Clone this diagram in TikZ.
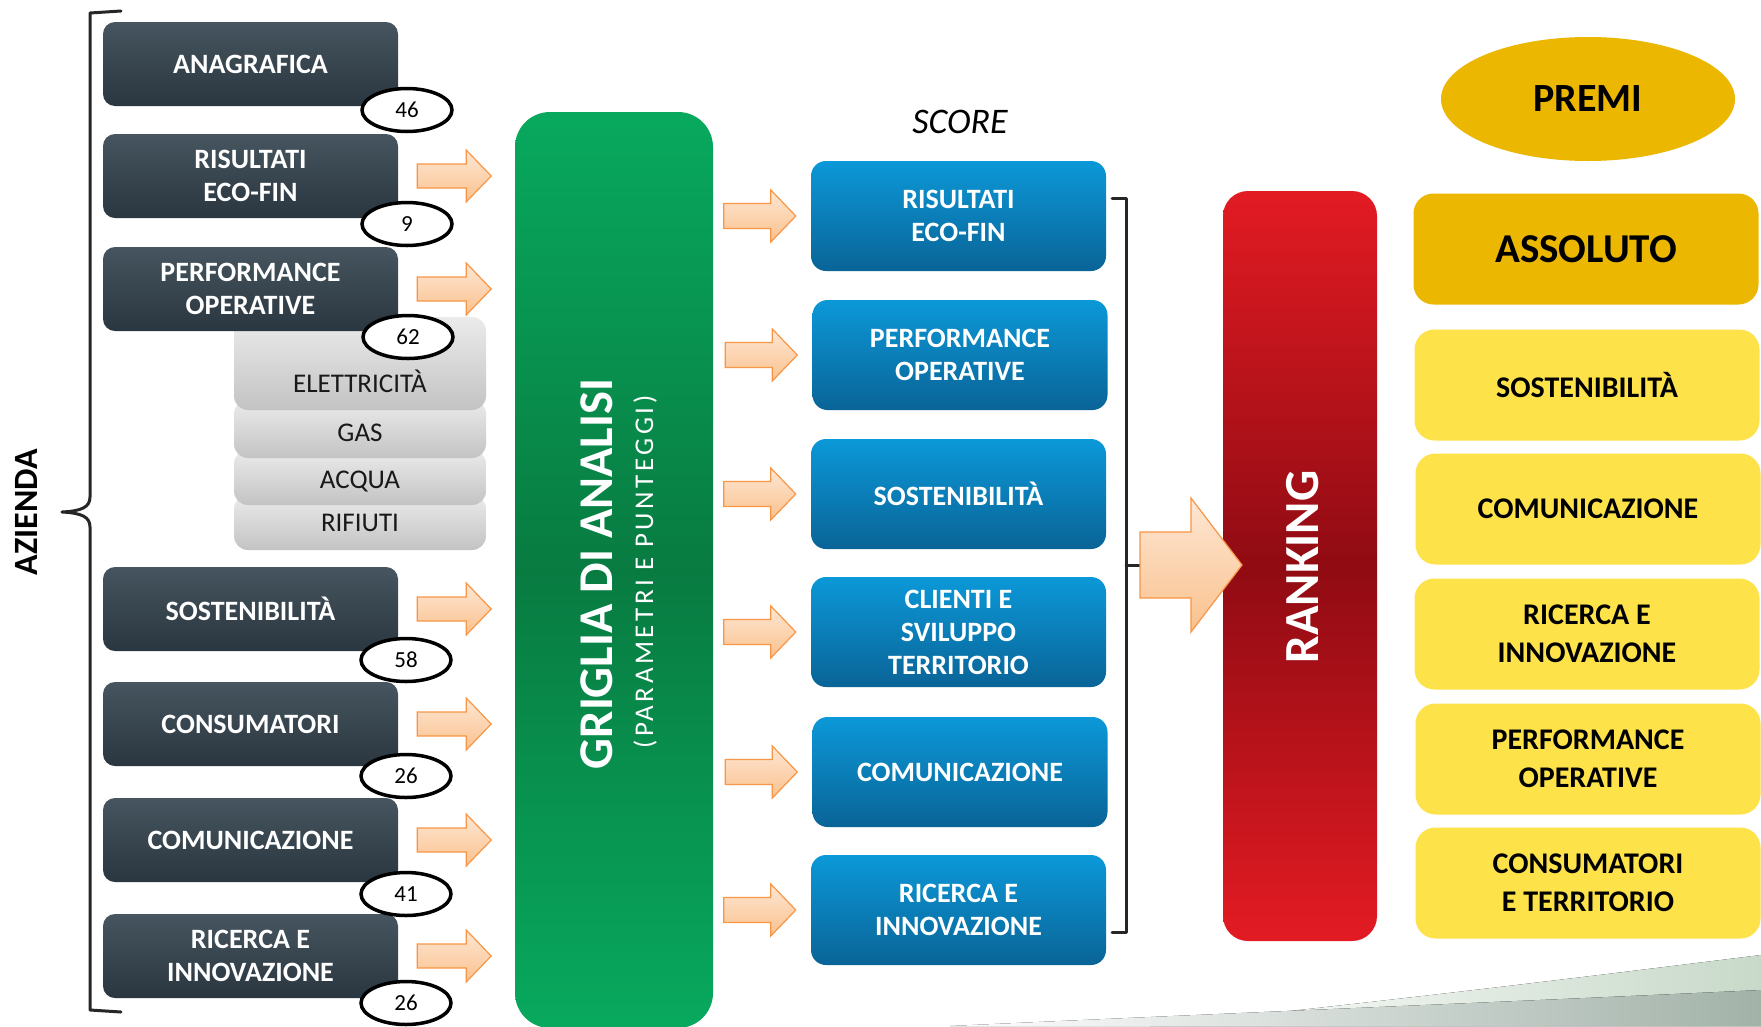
\documentclass[tikz,border=0pt]{standalone}
\usepackage{fontspec}
\setmainfont{Carlito}
\newfontfamily\widefont[LetterSpace=13]{Carlito}
\usepackage{tikz}
\usetikzlibrary{shapes, arrows, positioning}

\definecolor{slatetop}{HTML}{46555F}
\definecolor{slatebot}{HTML}{2A3640}
\definecolor{greytop}{HTML}{EBEBEB}
\definecolor{greybot}{HTML}{C3C3C3}
\definecolor{bluetop}{HTML}{0B98D8}
\definecolor{bluebot}{HTML}{0A6497}
\definecolor{greentop}{HTML}{08A95E}
\definecolor{greenmid}{HTML}{087B41}
\definecolor{redtop}{HTML}{E31B23}
\definecolor{redmid}{HTML}{900B13}
\definecolor{goldfill}{HTML}{EBB700}
\definecolor{yellowfill}{HTML}{FDE24A}
\definecolor{peachtop}{HTML}{FDE7D4}
\definecolor{peachbot}{HTML}{FAC18D}
\definecolor{peachline}{HTML}{F79646}
\definecolor{swoopgreen}{HTML}{C8D9C9}
\definecolor{swoopgrey}{HTML}{A2B2A9}
\definecolor{inkline}{HTML}{262626}

\tikzstyle{azbox}      = [rounded corners=12pt, top color=slatetop, bottom color=slatebot, text=white, align=center, inner sep=0pt, minimum width=295pt, minimum height=84pt, font=\bfseries\fontsize{28}{33}\selectfont]
\tikzstyle{subbox}     = [rounded corners=14pt, top color=greytop, bottom color=greybot, text=black!90, inner sep=0pt, minimum width=252pt, anchor=base, font=\fontsize{27}{32}\selectfont]
\tikzstyle{nr}         = [draw, ellipse, line width=3.5pt, fill=white, inner sep=0pt, minimum width=90pt, minimum height=43pt, font=\fontsize{23}{27}\selectfont]
\tikzstyle{scorebox}   = [rounded corners=15pt, top color=bluetop, bottom color=bluebot, text=white, align=center, inner sep=0pt, minimum width=295pt, minimum height=110pt, font=\bfseries\fontsize{28}{33}\selectfont]
\tikzstyle{awardbox}   = [rounded corners=20pt, fill=yellowfill, align=center, inner sep=0pt, minimum width=345pt, minimum height=111pt, font=\bfseries\fontsize{30}{38}\selectfont]
\tikzstyle{bracket}    = [draw=inkline, line width=3pt, line cap=round, line join=round]
\tikzstyle{blockarrow} = [draw=peachline, line width=1.2pt, top color=peachtop, bottom color=peachbot]

\tikzset{pics/fat arrow/.style n args={4}{code={
  \path[blockarrow] (0,#2) -- ({#1-#4},#2) -- ({#1-#4},#3) -- (#1,0) -- ({#1-#4},-#3) -- ({#1-#4},-#2) -- (0,-#2) -- cycle;
}}}

\begin{document}
\begin{tikzpicture}[x=1pt, y=-1pt]

\useasboundingbox (0,0) rectangle (1761,1026);
\fill[white] (0,0) rectangle (1761,1026);

% background swoosh
\fill[left color=white, right color=swoopgreen] (1150,1026) .. controls (1400,1000) and (1600,975) .. (1761,955) -- (1761,1026) -- cycle;
\fill[left color=white, right color=swoopgrey]  (950,1026) .. controls (1300,1010) and (1550,1000) .. (1761,990) -- (1761,1026) -- cycle;

% azienda
\node [rotate=90, font=\bfseries\fontsize{34}{40}\selectfont] at (   26 ,  512 ) (azienda) {AZIENDA};
\draw [bracket] (121,11) -- (90,13) -- (90,497) .. controls (90,507) and (82,511) .. (62,512) .. controls (82,513) and (90,517) .. (90,527) -- (90,1010) -- (121,1012);

\node [subbox, text height=36.5pt, text depth=18.5pt] at ( 360 , 531.5 ) (rifiuti) {RIFIUTI};
\node [subbox, text height=38.5pt, text depth=16.5pt] at ( 360 , 488.5 ) (acqua)   {ACQUA};
\node [subbox, text height=41.5pt, text depth=16.5pt] at ( 360 , 441.5 ) (gas)     {GAS};
\node [subbox, text height=75pt,   text depth=18pt]   at ( 360 , 392   ) (elett)   {ELETTRICITÀ};

\node [azbox] at ( 250.5 ,  64 ) (anag) {ANAGRAFICA};
\node [azbox] at ( 250.5 , 176 ) (risf) {RISULTATI\\ECO-FIN};
\node [azbox] at ( 250.5 , 289 ) (perf) {PERFORMANCE\\OPERATIVE};
\node [azbox] at ( 250.5 , 609 ) (sost) {SOSTENIBILITÀ};
\node [azbox] at ( 250.5 , 724 ) (cons) {CONSUMATORI};
\node [azbox] at ( 250.5 , 840 ) (comu) {COMUNICAZIONE};
\node [azbox] at ( 250.5 , 956 ) (rice) {RICERCA E\\INNOVAZIONE};

\node [nr] at ( 407 ,  110 ) (n-anag) {46};
\node [nr] at ( 407 ,  224 ) (n-risf) {9};
\node [nr] at ( 408 ,  337 ) (n-perf) {62};
\node [nr] at ( 406 ,  660 ) (n-sost) {58};
\node [nr] at ( 406 ,  776 ) (n-cons) {26};
\node [nr] at ( 406 ,  894 ) (n-comu) {41};
\node [nr] at ( 406 , 1003 ) (n-rice) {26};

% griglia
\node [rounded corners=35pt, top color=greentop, bottom color=greentop, middle color=greenmid, inner sep=0pt, minimum width=198pt, minimum height=916pt] at ( 614 , 570 ) (griglia) {};
\node [rotate=90, text=white, font=\bfseries\fontsize{48.5}{50}\selectfont] at ( 597 , 574 ) (griglia-t) {GRIGLIA DI ANALISI};
\node [rotate=90, text=white, font=\widefont\fontsize{27}{30}\selectfont] at ( 645 , 572 ) (griglia-s) {(PARAMETRI  E  PUNTEGGI)};

% score
\node [font=\itshape\fontsize{36}{40}\selectfont] at ( 960 , 122 ) (score) {SCORE};
\node [scorebox] at ( 958.5 , 216 ) (s1) {RISULTATI\\ECO-FIN};
\node [scorebox] at ( 960   , 355 ) (s2) {PERFORMANCE\\OPERATIVE};
\node [scorebox] at ( 958.5 , 494 ) (s3) {SOSTENIBILITÀ};
\node [scorebox] at ( 958.5 , 632 ) (s4) {CLIENTI E\\SVILUPPO\\TERRITORIO};
\node [scorebox] at ( 960   , 772 ) (s5) {COMUNICAZIONE};
\node [scorebox] at ( 958.5 , 910 ) (s6) {RICERCA E\\INNOVAZIONE};

\draw [bracket] (1112,198) -- (1126,198) -- (1126,932) -- (1112,932);
\coordinate (tick) at (1140,565);
\draw [bracket] (1126,565) -- (tick);

% ranking
\node [rounded corners=25pt, top color=redtop, bottom color=redtop, middle color=redmid, inner sep=0pt, minimum width=154pt, minimum height=750pt] at ( 1300 , 566 ) (ranking) {};
\node [rotate=90, text=white, font=\bfseries\fontsize{49}{52}\selectfont] at ( 1303 , 567 ) (ranking-t) {RANKING};

% premi
\node [ellipse, fill=goldfill, inner sep=0pt, minimum width=294pt, minimum height=124pt, font=\bfseries\fontsize{40}{48}\selectfont] at ( 1588 , 99 ) (premi) {PREMI};
\node [awardbox, fill=goldfill, font=\bfseries\fontsize{41}{48}\selectfont] at ( 1586 , 249 ) (assoluto) {ASSOLUTO};
\node [awardbox] at ( 1587 , 385 ) (p1) {SOSTENIBILITÀ};
\node [awardbox] at ( 1588 , 509 ) (p2) {COMUNICAZIONE};
\node [awardbox] at ( 1587 , 634 ) (p3) {RICERCA E\\INNOVAZIONE};
\node [awardbox] at ( 1588 , 759 ) (p4) {PERFORMANCE\\OPERATIVE};
\node [awardbox] at ( 1588 , 883 ) (p5) {CONSUMATORI\\E TERRITORIO};

% arrows
\foreach \b in {risf, perf, sost, cons, comu, rice}
  \pic at ([xshift=19pt]\b.east) {fat arrow={74}{12}{26}{25}};
\foreach \s in {s1, s2, s3, s4, s5, s6}
  \pic at ([xshift=-87pt]\s.west) {fat arrow={72}{12.5}{26}{25}};
\pic at (tick) {fat arrow={102}{33}{67}{51}};

\end{tikzpicture}
\end{document}
